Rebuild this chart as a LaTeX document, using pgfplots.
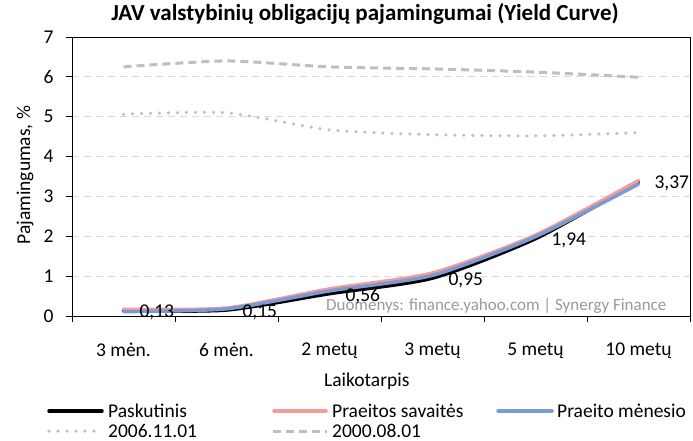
\documentclass[border=0pt]{standalone}
\usepackage{pgfplots}
\pgfplotsset{compat=1.18}
\usepackage{fontspec}
\setmainfont{Carlito}
\definecolor{pinkl}{HTML}{F79A9A}
\definecolor{bluel}{HTML}{7A9AD2}
\definecolor{grayd}{HTML}{BFBFBF}
\definecolor{gridc}{HTML}{D9D9D9}
\newcommand{\fs}{\fontsize{19.5}{22}\selectfont}
\begin{document}
\begin{tikzpicture}
\path[use as bounding box] (0,0) rectangle (693pt,440pt);
\begin{axis}[
  at={(72pt,124pt)}, anchor=south west,
  scale only axis, width=618pt, height=279pt,
  xmin=-0.5, xmax=5.5, ymin=0, ymax=7,
  xtick={0,...,5},
  xticklabels={3 mėn.,6 mėn.,2 metų,3 metų,5 metų,10 metų},
  minor xtick={-0.5,0.5,...,5.5},
  ytick={0,...,7},
  xtick pos=bottom, ytick pos=left,
  tick align=outside,
  major tick length=6pt, minor tick length=6pt,
  major x tick style={draw=none},
  minor x tick style={draw=black, line width=1pt},
  y tick style={draw=black, line width=1pt},
  axis line style={line width=1pt},
  ymajorgrids,
  major grid style={gridc, dash pattern=on 7pt off 5pt, line width=0.8pt},
  /pgf/number format/assume math mode=true,
  tick label style={font=\fs},
  xticklabel style={anchor=north, yshift=-17pt},
  yticklabel style={xshift=-9pt},
  title={\textbf{JAV valstybinių obligacijų pajamingumai (Yield Curve)}},
  title style={at={(axis description cs:0.474,1.0394)}, anchor=base, font=\fontsize{23}{26}\selectfont},
  xlabel={Laikotarpis},
  xlabel style={at={(axis description cs:0.477,-0.233)}, anchor=center, font=\fs},
  ylabel={Pajamingumas, \%},
  ylabel style={at={(axis description cs:-0.076,0.505)}, anchor=center, font=\fs},
]
\addplot[black, line width=3.5pt, line cap=round, smooth, tension=0.4,
  nodes near coords, point meta=explicit,
  every node near coord/.append style={anchor=west, xshift=11pt, yshift=-2pt, text=black, font=\fs},
  /pgf/number format/.cd, fixed, precision=2, fixed zerofill, use comma]
  coordinates {(0,0.13)[0.13] (1,0.15)[0.15] (2,0.56)[0.56] (3,0.95)[0.95] (4,1.94)[1.94] (5,3.37)[3.37]};
\addplot[pinkl, line width=3.5pt, line cap=round, smooth, tension=0.4]
  coordinates {(0,0.17) (1,0.20) (2,0.68) (3,1.08) (4,2.03) (5,3.40)};
\addplot[bluel, line width=3.5pt, line cap=round, smooth, tension=0.4]
  coordinates {(0,0.11) (1,0.18) (2,0.63) (3,1.02) (4,1.99) (5,3.31)};
\addplot[grayd, line width=3.5pt, line cap=round, dash pattern=on 0pt off 9pt, smooth, tension=0.4]
  coordinates {(0,5.06) (1,5.10) (2,4.67) (3,4.55) (4,4.52) (5,4.60)};
\addplot[grayd, line width=3pt, dash pattern=on 8pt off 5pt, smooth, tension=0.4]
  coordinates {(0,6.25) (1,6.40) (2,6.25) (3,6.20) (4,6.12) (5,5.99)};
\node[anchor=base east, text=black!40, font=\fontsize{17}{19}\selectfont] at (axis description cs:0.9676,0.018) {Duomenys: finance.yahoo.com | Synergy Finance};
\end{axis}
% legend
\draw[black, line width=3.5pt, line cap=round] (49pt,29pt) -- (102pt,29pt);
\node[anchor=west, inner sep=0pt, font=\fs] at (108pt,29pt) {Paskutinis};
\draw[pinkl, line width=3.5pt, line cap=round] (274pt,29pt) -- (326pt,29pt);
\node[anchor=west, inner sep=0pt, font=\fs] at (332pt,29pt) {Praeitos savaitės};
\draw[bluel, line width=3.5pt, line cap=round] (498pt,29pt) -- (552pt,29pt);
\node[anchor=west, inner sep=0pt, font=\fs] at (557pt,29pt) {Praeito mėnesio};
\draw[grayd, line width=3.5pt, line cap=round, dash pattern=on 0pt off 9pt] (49pt,9pt) -- (102pt,9pt);
\node[anchor=west, inner sep=0pt, font=\fs] at (108pt,9pt) {2006.11.01};
\draw[grayd, line width=3pt, dash pattern=on 8pt off 5pt] (273pt,9pt) -- (327pt,9pt);
\node[anchor=west, inner sep=0pt, font=\fs] at (332pt,9pt) {2000.08.01};
\end{tikzpicture}
\end{document}
